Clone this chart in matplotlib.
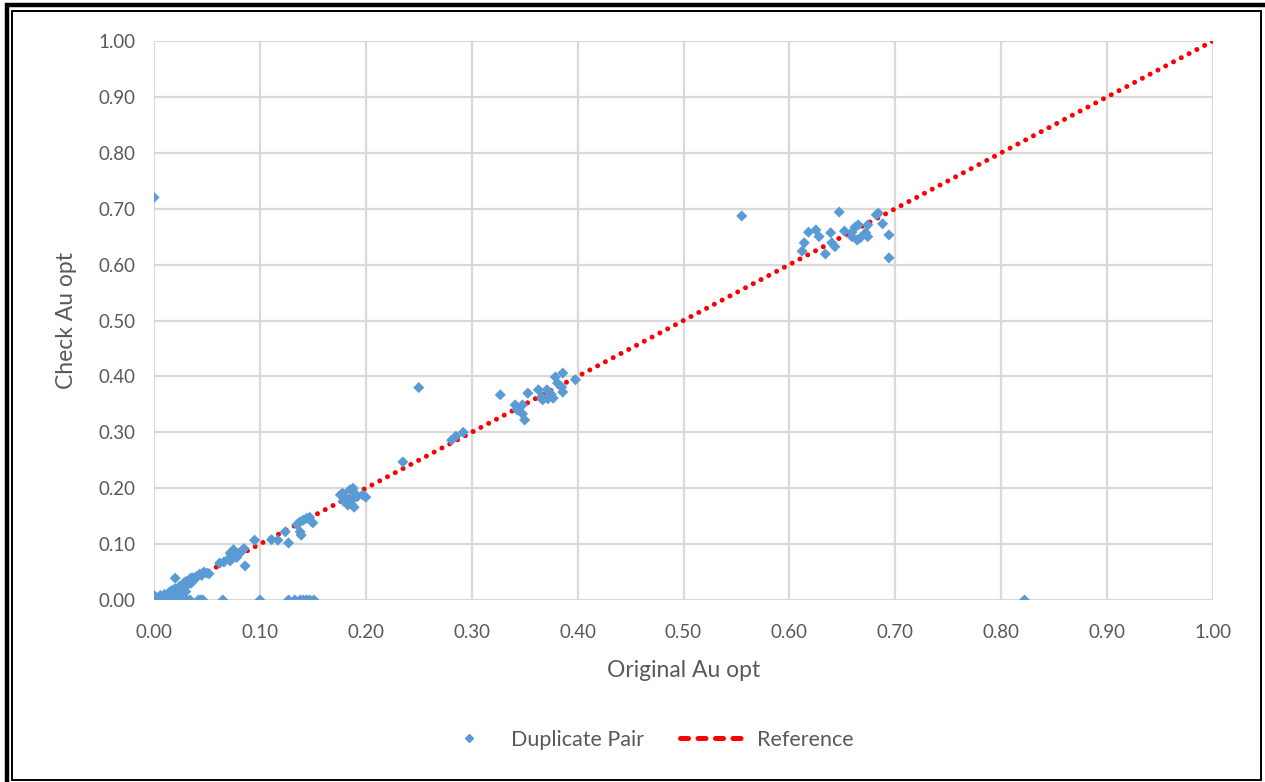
import numpy as np
import matplotlib
matplotlib.use("Agg")
import matplotlib.pyplot as plt
from matplotlib.lines import Line2D
from matplotlib.patches import Rectangle

# duplicate pairs: original assay vs check assay (Au opt)
orig_zero = [0.000, 0.001, 0.002, 0.003, 0.004, 0.005, 0.006, 0.008, 0.010, 0.012,
             0.014, 0.017, 0.020, 0.023, 0.027, 0.031, 0.034, 0.042, 0.044, 0.046,
             0.065, 0.100, 0.127, 0.133, 0.138, 0.141, 0.144, 0.147, 0.151, 0.822]
check_zero = [0.0] * len(orig_zero)

orig_low = [0.000, 0.000, 0.002, 0.004, 0.006, 0.008, 0.010, 0.012, 0.014, 0.016,
            0.018, 0.020, 0.022, 0.024, 0.026, 0.028, 0.030, 0.032, 0.034, 0.036,
            0.038, 0.040, 0.043, 0.045, 0.047, 0.050, 0.052, 0.020, 0.062, 0.066,
            0.070, 0.072, 0.074, 0.076, 0.078, 0.080, 0.075, 0.083, 0.085, 0.086,
            0.095, 0.072, 0.005, 0.010, 0.015, 0.020, 0.025, 0.030, 0.018, 0.035]
check_low = [0.003, 0.008, 0.005, 0.002, 0.008, 0.004, 0.010, 0.006, 0.013, 0.016,
             0.012, 0.020, 0.018, 0.024, 0.022, 0.030, 0.033, 0.028, 0.038, 0.040,
             0.036, 0.042, 0.046, 0.044, 0.050, 0.048, 0.047, 0.039, 0.066, 0.068,
             0.073, 0.070, 0.078, 0.080, 0.076, 0.082, 0.090, 0.088, 0.092, 0.061,
             0.107, 0.084, 0.001, 0.002, 0.005, 0.008, 0.010, 0.015, 0.018, 0.030]

orig_mid = [0.111, 0.117, 0.127, 0.124, 0.135, 0.138, 0.141, 0.144, 0.147, 0.150,
            0.138, 0.139,
            0.176, 0.178, 0.180, 0.182, 0.184, 0.185, 0.186, 0.187, 0.188, 0.183,
            0.190, 0.192, 0.197, 0.200, 0.179, 0.189,
            0.235, 0.281, 0.285, 0.292, 0.250]
check_mid = [0.108, 0.107, 0.102, 0.122, 0.135, 0.140, 0.143, 0.146, 0.148, 0.138,
             0.122, 0.116,
             0.188, 0.191, 0.184, 0.180, 0.176, 0.197, 0.172, 0.179, 0.200, 0.170,
             0.190, 0.185, 0.188, 0.184, 0.177, 0.166,
             0.247, 0.286, 0.293, 0.300, 0.380]

orig_high = [0.327, 0.341, 0.343, 0.348, 0.348, 0.350, 0.353, 0.363, 0.366, 0.367,
             0.371, 0.372, 0.377, 0.379, 0.381, 0.385, 0.386, 0.386, 0.398, 0.375,
             0.555, 0.647, 0.618, 0.625, 0.628, 0.614, 0.612, 0.634, 0.639, 0.640,
             0.643, 0.652, 0.659, 0.662, 0.665, 0.667, 0.672, 0.674, 0.674, 0.682,
             0.684, 0.688, 0.694, 0.694, 0.659, 0.664, 0.000]
check_high = [0.367, 0.349, 0.340, 0.349, 0.333, 0.322, 0.370, 0.376, 0.363, 0.358,
              0.376, 0.360, 0.361, 0.399, 0.388, 0.381, 0.372, 0.406, 0.394, 0.368,
              0.687, 0.694, 0.658, 0.662, 0.650, 0.639, 0.624, 0.619, 0.657, 0.639,
              0.632, 0.660, 0.658, 0.667, 0.671, 0.648, 0.657, 0.650, 0.671, 0.689,
              0.692, 0.673, 0.653, 0.612, 0.650, 0.644, 0.720]

orig = np.array(orig_zero + orig_low + orig_mid + orig_high)
check = np.array(check_zero + check_low + check_mid + check_high)

ref_x = [0.0, 1.0]
ref_y = [0.0, 1.0]
ticks = np.arange(0, 1.01, 0.1)

blue = "#5B9BD5"
grey_text = "#595959"
plt.rcParams["font.family"] = ["Lato", "DejaVu Sans"]

fig = plt.figure(figsize=(12.65, 7.82), dpi=100)
ax = fig.add_axes([154 / 1265, 1 - 600 / 782, 1059 / 1265, 559 / 782])

ax.plot(ref_x, ref_y, color="red", lw=3.6, ls=(0, (0.01, 1.75)),
        dash_capstyle="round", zorder=2)
ax.scatter(orig, check, marker="D", s=32, color=blue, edgecolors="none", zorder=3)

ax.set_xlim(0, 1)
ax.set_ylim(0, 1)
ax.set_xticks(ticks)
ax.set_yticks(ticks)
ax.set_xticklabels([f"{t:.2f}" for t in ticks])
ax.set_yticklabels([f"{t:.2f}" for t in ticks])
ax.tick_params(length=0, labelsize=13.5, colors=grey_text)
ax.tick_params(axis="x", pad=17)
ax.tick_params(axis="y", pad=13)
ax.grid(True, color="#d9d9d9", lw=1.6)
ax.set_axisbelow(True)
for s in ax.spines.values():
    s.set_visible(False)

ax.set_xlabel("Original Au opt", fontsize=16.5, color=grey_text, labelpad=14)
ax.set_ylabel("Check Au opt", fontsize=16.5, color=grey_text, labelpad=16)

handles = [
    Line2D([], [], ls="none", marker="D", markersize=4.5, color=blue),
    Line2D([], [], color="red", lw=3.6, ls=(0, (1.6, 1.9)), dash_capstyle="round"),
]
fig.legend(handles, ["Duplicate Pair", "Reference"], loc="center",
           bbox_to_anchor=(0.509, 0.054), ncol=2, frameon=False,
           fontsize=15.5, labelcolor=grey_text, handlelength=3.25,
           columnspacing=1.7, handletextpad=0.3)

# page frame around the chart
W, H = 1265, 782
fig.patches.append(Rectangle((7 / W, -0.1), 1.2, 1 - 5 / H + 0.1, transform=fig.transFigure,
                             fill=False, ec="black", lw=3.2, zorder=10))
fig.patches.append(Rectangle((11.5 / W, 2 / H), (1261 - 11.5) / W, (771 - 2) / H,
                             transform=fig.transFigure, fill=False, ec="black",
                             lw=1.4, zorder=10))

fig.savefig("out.png", dpi=100)
